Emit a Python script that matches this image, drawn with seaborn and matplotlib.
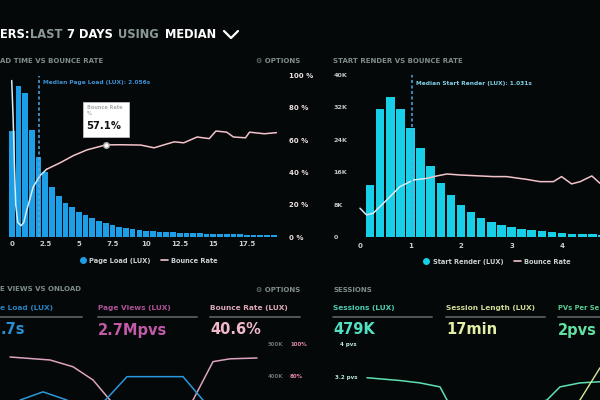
import matplotlib

matplotlib.use("Agg")

import matplotlib.pyplot as plt
import numpy as np
import pandas as pd
import seaborn as sns
from matplotlib.lines import Line2D
from matplotlib.patches import Rectangle

# --- data --------------------------------------------------------------

# page load histogram (bins of 0.5 s, centres) and bounce rate line
load_bins = np.arange(0, 20, 0.5)
load_counts = [31.6, 45.0, 42.8, 31.8, 24.0, 19.3, 15.0, 12.2, 10.1, 8.8,
               7.6, 6.6, 5.6, 4.8, 4.1, 3.5, 3.1, 2.7, 2.3, 2.1,
               1.9, 1.7, 1.6, 1.5, 1.4, 1.3, 1.2, 1.2, 1.1, 1.0,
               1.0, 0.9, 0.9, 0.8, 0.8, 0.7, 0.7, 0.6, 0.6, 0.5]
load_bounce_x = [0, 0.1, 0.2, 0.3, 0.45, 0.7, 0.9, 1.1, 1.6, 2.1, 2.6, 3.6, 4.6,
                 5.6, 7.0, 8.1, 9.6, 10.6, 11.6, 12.1, 12.8, 13.8, 14.7, 15.2,
                 16.0, 16.5, 17.4, 17.7, 18.8, 19.7]
load_bounce = [97, 75, 45, 20, 9, 7, 9, 16, 31, 38, 42, 46, 50.5,
               54, 57.1, 57.2, 57, 55.3, 57.8, 59, 58.4, 62, 61, 65.7,
               65, 62, 61.5, 65, 64, 64.7]
load_median = 2.056

# start render histogram (bins of 0.2 s) and bounce rate line
render_bins = np.round(np.arange(0.2, 4.9, 0.2), 2)
render_counts = [12.9, 31.6, 34.7, 31.6, 27.0, 22.1, 17.6, 13.5, 10.4, 8.0,
                 6.3, 4.7, 3.7, 3.0, 2.5, 2.0, 1.7, 1.5, 1.2, 1.1,
                 0.9, 0.8, 0.7, 0.6]
render_bounce_x = [0, 0.13, 0.26, 0.53, 0.79, 1.06, 1.32, 1.52, 1.72, 1.98,
                   2.38, 2.64, 2.9, 3.3, 3.56, 3.83, 3.99, 4.19, 4.36, 4.59, 4.75]
render_bounce = [17.9, 13.8, 14.8, 23, 31.2, 35.3, 36.3, 37.8, 39, 38.4,
                 37.8, 37.4, 37.4, 35.7, 34.3, 34.3, 37.4, 32.9, 34.3, 37.8, 33.3]
render_median = 1.031

# bottom strip: page views vs onload
pv_x = [1, 5, 7.3, 9.3, 11, 13, 15, 17, 19.3, 21.3, 23, 25.7]
pv_bounce = [92.1, 90.3, 86.2, 78.2, 66, 55, 50, 55, 66, 89.3, 91, 91.5]
onload_x = [0.5, 2, 4.3, 6.7, 8.5, 10.7, 12.7, 15, 18.3, 20.3, 22]
onload_k = [290, 330, 355, 330, 275, 335, 401, 401, 401, 330, 275]

# bottom strip: sessions
sess_x = [3.4, 6.7, 8.7, 10.7, 11.4, 13, 17, 21.4, 22.7, 24.7, 26.7]
sess_pvs = [3.2, 3.13, 3.07, 2.97, 2.64, 2.3, 2.3, 2.64, 2.97, 3.07, 3.1]
len_x = [23, 24.7, 26.7]
len_pvs = [2.4, 2.64, 3.45]

kpi_labels = ["e Load (LUX)", "Page Views (LUX)", "Bounce Rate (LUX)",
              "Sessions (LUX)", "Session Length (LUX)", "PVs Per Se"]
kpi_values = [".7s", "2.7Mpvs", "40.6%", "479K", "17min", "2pvs"]
kpi_colors = ["#2c8fd4", "#c15aa8", "#f2b9cc", "#52e0c4", "#e2efa4", "#62e0a2"]
kpi_x = [0, 98, 210, 333, 446, 558]
kpi_line_end = [82, 197, 300, 432, 545, 600]

# --- style ---------------------------------------------------------------
BG = "#050808"
BLUE = "#1c9fe6"
CYAN = "#17cfe6"
PINK = "#f3c3cb"
PALE = "#d6ecf8"
GREY = "#7f8b8d"
TICK = "#c9d0d2"

sns.set_style("dark")
plt.rcParams["font.family"] = ["DejaVu Sans"]
plt.rcParams["font.weight"] = "bold"
plt.rcParams["axes.facecolor"] = "none"
plt.rcParams["figure.facecolor"] = BG

W, H = 600, 400
fig = plt.figure(figsize=(6, 4), dpi=100)


def box(x0, y0, x1, y1):
    # pixel box (top-left origin) -> figure fraction rect
    return [x0 / W, 1 - y1 / H, (x1 - x0) / W, (y1 - y0) / H]


def ftext(x, y, s, **kw):
    kw.setdefault("va", "center")
    kw.setdefault("fontweight", "bold")
    fig.text(x / W, 1 - y / H, s, **kw)


def clean(ax):
    for sp in ax.spines.values():
        sp.set_visible(False)
    ax.grid(False)
    ax.set_xlabel("")
    ax.set_ylabel("")
    ax.tick_params(length=0)


# header
hdr = [("ERS:", 0, "white"), ("LAST", 30, "#8c9899"), ("7 DAYS", 67, "white"),
       ("USING", 118, "#8c9899"), ("MEDIAN", 165, "white")]
for word, x, c in hdr:
    ftext(x, 35, word, color=c, fontsize=8.3)
fig.add_artist(Line2D([224 / W, 231 / W, 238 / W], [1 - 31 / H, 1 - 38 / H, 1 - 31 / H],
                      color="white", lw=1.6))

ftext(0, 61, "AD TIME VS BOUNCE RATE", color=GREY, fontsize=5)
ftext(256, 61, "⚙ OPTIONS", color=GREY, fontsize=5)
ftext(333, 61, "START RENDER VS BOUNCE RATE", color=GREY, fontsize=5)


def panel(rect, bins, counts, width, color, bx, by, split, median, xlim, bar_top):
    ax = fig.add_axes(rect)
    hist = pd.DataFrame({"t": bins, "n": counts})
    sns.histplot(data=hist, x="t", weights="n", binwidth=width,
                 binrange=(bins[0] - width / 2, bins[-1] + width / 2), ax=ax,
                 color=color, shrink=0.85, edgecolor="none", alpha=1)
    ax.set_xlim(*xlim)
    ax.set_ylim(0, bar_top)
    clean(ax)
    tw = ax.twinx()
    df = pd.DataFrame({"x": bx, "y": by})
    sns.lineplot(data=df[df.x <= split], x="x", y="y", ax=tw, color=PALE,
                 lw=1.1, estimator=None)
    sns.lineplot(data=df[df.x >= split], x="x", y="y", ax=tw, color=PINK,
                 lw=1.1, estimator=None)
    tw.set_ylim(0, 100)
    tw.axvline(median, color="#4fa8e6", lw=1.1, ls=(0, (2, 1.6)))
    clean(tw)
    return ax, tw


# left panel: page load
ax1, tw1 = panel(box(0, 75.7, 283, 237), load_bins, load_counts, 0.5, BLUE,
                 load_bounce_x, load_bounce, 2.6, load_median, (-0.871, 20.19), 48.1)
ax1.set_xticks([0, 2.5, 5, 7.5, 10, 12.5, 15, 17.5])
ax1.set_xticklabels(["0", "2.5", "5", "7.5", "10", "12.5", "15", "17.5"])
ax1.tick_params(axis="x", colors=TICK, labelsize=5, pad=3)
ax1.set_yticks([])
tw1.set_yticks([0, 20, 40, 60, 80, 100])
tw1.set_yticklabels(["0 %", "20 %", "40 %", "60 %", "80 %", "100 %"])
tw1.tick_params(axis="y", colors="#ecdfe2", labelsize=5, pad=4)
tw1.text(load_median + 0.25, 95.7, f"Median Page Load (LUX): {load_median:.3f}s",
         color="#3a8fd2", fontsize=4.2, va="center")
# tooltip on the bounce line
tw1.add_patch(Rectangle((5.28, 61.8), 3.47, 22.1, facecolor="white", edgecolor="#cccccc",
                        lw=0.5, zorder=5))
tw1.text(5.62, 80.2, "Bounce Rate", color="#b0b0b0", fontsize=3.6, va="center", zorder=6)
tw1.text(5.62, 76.3, "%", color="#b0b0b0", fontsize=3.6, va="center", zorder=6)
tw1.text(5.58, 68.8, "57.1%", color="#111111", fontsize=7.2, va="center", zorder=6)
tw1.plot([7.0], [57.1], marker="o", ms=4, mfc="white", mec="#aaaaaa", zorder=7)
ax1.legend(handles=[Line2D([], [], marker="o", ls="", color=BLUE, ms=4),
                    Line2D([], [], color=PINK, lw=1.2)],
           labels=["Page Load (LUX)", "Bounce Rate"], loc="center",
           bbox_to_anchor=(0.525, -0.147), ncol=2, frameon=False, fontsize=4.8,
           labelcolor=TICK, handlelength=1.0, handletextpad=0.5, columnspacing=1.6)

# right panel: start render
ax2, tw2 = panel(box(352, 75, 600, 237.3), render_bins, render_counts, 0.2, CYAN,
                 render_bounce_x, render_bounce, 1.32, render_median, (-0.158, 4.752), 40)
ax2.set_xticks([0, 1, 2, 3, 4])
ax2.tick_params(axis="x", colors=TICK, labelsize=5, pad=4)
ax2.set_yticks([0, 8, 16, 24, 32, 40])
ax2.set_yticklabels(["0", "8K", "16K", "24K", "32K", "40K"])
ax2.tick_params(axis="y", colors="#bfc7c8", labelsize=4.6, pad=13.5)
for lbl in ax2.get_yticklabels():
    lbl.set_horizontalalignment("left")
tw2.set_yticks([])
tw2.text(render_median + 0.08, 95, f"Median Start Render (LUX): {render_median:.3f}s",
         color="#7fd0e8", fontsize=4.2, va="center")
ax2.legend(handles=[Line2D([], [], marker="o", ls="", color=CYAN, ms=4),
                    Line2D([], [], color=PINK, lw=1.2)],
           labels=["Start Render (LUX)", "Bounce Rate"], loc="center",
           bbox_to_anchor=(0.585, -0.15), ncol=2, frameon=False, fontsize=4.8,
           labelcolor=TICK, handlelength=1.0, handletextpad=0.5, columnspacing=1.6)

# bottom strip titles and KPIs
ftext(0, 289, "E VIEWS VS ONLOAD", color=GREY, fontsize=5)
ftext(256, 290, "⚙ OPTIONS", color=GREY, fontsize=5)
ftext(333, 290, "SESSIONS", color=GREY, fontsize=5)
for lab, val, c, x, xe in zip(kpi_labels, kpi_values, kpi_colors, kpi_x, kpi_line_end):
    ftext(x, 308, lab, color=c, fontsize=5.3 if x < 550 else 4.9, alpha=0.9)
    fig.add_artist(Line2D([x / W, xe / W], [1 - 317 / H] * 2, color="#4f5759", lw=1.4))
    ftext(x, 330, val, color=c, fontsize=10.5)

# bottom-left mini chart
ax3 = fig.add_axes(box(0, 340, 300, 400))
sns.lineplot(x=pv_x, y=pv_bounce, ax=ax3, color="#dba3bf", lw=1.1, estimator=None)
ax3.set_xlim(0, 30)
ax3.set_ylim(66.06, 102.4)
clean(ax3)
ax3.set_xticks([])
ax3.set_yticks([])
tw3 = ax3.twinx()
sns.lineplot(x=onload_x, y=onload_k, ax=tw3, color="#2a98da", lw=1.1, estimator=None)
tw3.set_ylim(330.3, 512)
clean(tw3)
tw3.set_yticks([])
ftext(268, 344, "500K", color="#6b6f70", fontsize=4)
ftext(290, 344, "100%", color="#e48aa8", fontsize=4)
ftext(268, 377, "400K", color="#6b6f70", fontsize=4)
ftext(290, 377, "80%", color="#e48aa8", fontsize=4)

# bottom-right mini chart
ax4 = fig.add_axes(box(333, 340, 600, 400))
sns.lineplot(x=sess_x, y=sess_pvs, ax=ax4, color="#5ee0b2", lw=1.1, estimator=None)
sns.lineplot(x=len_x, y=len_pvs, ax=ax4, color="#d8e89a", lw=1.0, estimator=None)
ax4.set_xlim(0, 26.7)
ax4.set_ylim(2.64, 4.15)
clean(ax4)
ax4.set_xticks([])
ax4.set_yticks([])
ax4.text(0.7, 4.0, "4 pvs", color="#b8e8d8", fontsize=4)
ax4.text(0.2, 3.2, "3.2 pvs", color="#b8e8d8", fontsize=4, va="center")

fig.savefig("out.png", dpi=100, facecolor=BG)
